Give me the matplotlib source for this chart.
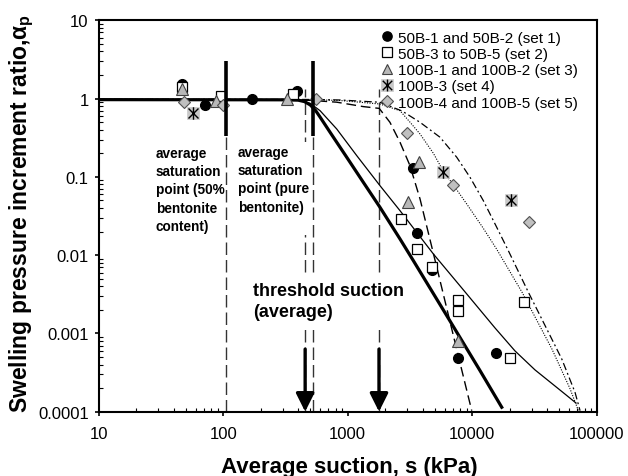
import matplotlib
matplotlib.use('Agg')
import matplotlib.pyplot as plt
from matplotlib.path import Path
from matplotlib.legend_handler import HandlerTuple
from matplotlib.ticker import FixedLocator, FixedFormatter, LogLocator, NullFormatter

plt.rcParams['font.family'] = ['Liberation Sans', 'DejaVu Sans']
plt.rcParams['mathtext.fontset'] = 'custom'
plt.rcParams['mathtext.rm'] = 'Liberation Sans:bold'
plt.rcParams['mathtext.it'] = 'Liberation Sans:bold'
plt.rcParams['mathtext.bf'] = 'Liberation Sans:bold'

# ---------------- data ----------------
set1_s = [46.7, 71, 171, 389, 3330, 3580, 4730, 7730, 15500]
set1_a = [1.53, 0.835, 0.99, 1.26, 0.129, 0.0191, 0.00653, 0.00048, 0.00056]
set2_s = [46.4, 95.5, 361, 2680, 3580, 4785, 7730, 7730, 20100, 26200]
set2_a = [1.39, 1.07, 1.15, 0.029, 0.012, 0.00713, 0.00268, 0.00195, 0.00048, 0.00255]
set3_s = [46.4, 87, 324, 3770, 3030, 7730]
set3_a = [1.31, 0.94, 1.0, 0.154, 0.0474, 0.00081]
set4_s = [57.5, 5870, 20500]
set4_a = [0.65, 0.115, 0.0507]
set5_s = [48.8, 99, 553, 2980, 6970, 28800]
set5_a = [0.90, 0.83, 0.99, 0.364, 0.0789, 0.0268]

labels = ['50B-1 and 50B-2 (set 1)', '50B-3 to 50B-5 (set 2)',
          '100B-1 and 100B-2 (set 3)', '100B-3 (set 4)',
          '100B-4 and 100B-5 (set 5)']

thick_s = [10, 300, 400, 450, 500, 550, 600, 721, 982, 1334, 1815, 2630, 3365, 6240, 11550, 17260]
thick_a = [0.97, 0.965, 0.955, 0.915, 0.83, 0.71, 0.58, 0.372, 0.178, 0.0853, 0.0409, 0.0161,
           0.00851, 0.00169, 0.000335, 0.000114]
thin_s = [10, 300, 400, 500, 600, 816, 1181, 1815, 2630, 4875, 8240, 15240, 22070, 31930,
          46210, 56650, 68200]
thin_a = [0.97, 0.965, 0.955, 0.87, 0.70, 0.409, 0.187, 0.0773, 0.037, 0.01035, 0.00381,
          0.001175, 0.000597, 0.000342, 0.000213, 0.000164, 0.000129]
dashed_s = [10, 500, 816, 1334, 1790, 2183, 2630, 3163, 3808, 5350, 7730, 9910]
dashed_a = [0.97, 0.95, 0.90, 0.79, 0.75, 0.498, 0.277, 0.139, 0.0523, 0.00575, 0.000516, 0.000103]
dotted_s = [10, 500, 867, 1815, 2630, 3163, 3808, 4875, 5865, 6970, 9030, 12280, 15730,
            25120, 43700, 61000, 71100]
dotted_a = [0.98, 0.97, 0.946, 0.853, 0.70, 0.50, 0.353, 0.20, 0.118, 0.0811, 0.0451, 0.0220,
            0.0119, 0.00336, 0.000631, 0.000197, 0.000104]
dashdot_s = [10, 500, 867, 1815, 2730, 3808, 5510, 7510, 9600, 12280, 15730, 19500, 28240,
             38460, 52360, 66920, 73500]
dashdot_a = [0.98, 0.975, 0.96, 0.898, 0.695, 0.498, 0.321, 0.178, 0.0988, 0.0497, 0.0227,
             0.0114, 0.00336, 0.00126, 0.000472, 0.000177, 0.000103]

sat_points = [106, 531]          # average saturation points
sat_bar = [0.336, 3.0]           # extent of the thick bars
threshold = [455, 1783]          # threshold suctions
thr_top = 1.33
arrow_top = 6.3e-4

xticks = [10, 100, 1000, 10000, 100000]
xticklabels = ['10', '100', '1000', '10000', '100000']
yticks = [0.0001, 0.001, 0.01, 0.1, 1, 10]
yticklabels = ['0.0001', '0.001', '0.01', '0.1', '1', '10']

# asterisk marker: vertical bar plus an X
star = Path([(0, -1), (0, 1), (-0.8, -0.8), (0.8, 0.8), (-0.8, 0.8), (0.8, -0.8)],
            [Path.MOVETO, Path.LINETO, Path.MOVETO, Path.LINETO, Path.MOVETO, Path.LINETO])

# ---------------- figure ----------------
fig = plt.figure(figsize=(6.28, 4.77), dpi=100)
ax = fig.add_axes([0.1572, 0.1348, 0.7930, 0.8205])
ax.set_xscale('log')
ax.set_yscale('log')
ax.set_xlim(10, 100000)
ax.set_ylim(0.0001, 10)

# curves
ax.plot(thick_s, thick_a, color='k', lw=2.3, zorder=2)
ax.plot(thin_s, thin_a, color='k', lw=0.9, zorder=2)
ax.plot(dashed_s, dashed_a, color='k', lw=1.0, dashes=(7, 3.5), zorder=2)
ax.plot(dotted_s, dotted_a, color='k', lw=0.8, dashes=(1, 1.3), zorder=2)
ax.plot(dashdot_s, dashdot_a, color='k', lw=0.9, dashes=(6, 2.5, 1.5, 2.5), zorder=2)

# vertical lines
for s in sat_points:
    ax.plot([s, s], [sat_bar[0], sat_bar[1]], color='k', lw=2.6, solid_capstyle='butt', zorder=4)
    ax.plot([s, s], [0.0001, sat_bar[0]], color='0.2', lw=1.0, dashes=(9, 3.6), zorder=1)
for s in threshold:
    ax.plot([s, s], [0.0001, thr_top], color='0.2', lw=1.0, dashes=(9, 3.6), zorder=1)
    ax.annotate('', xy=(s, 0.0001), xytext=(s, arrow_top),
                arrowprops=dict(arrowstyle='-|>,head_width=0.55,head_length=1.1',
                                lw=2.4, color='k', shrinkA=0, shrinkB=0), zorder=6)

# markers
h1, = ax.plot(set1_s, set1_a, ls='none', marker='o', ms=7, mfc='k', mec='k', zorder=3)
h2, = ax.plot(set2_s, set2_a, ls='none', marker='s', ms=7, mfc='white', mec='k', mew=0.9, zorder=3)
h3, = ax.plot(set3_s, set3_a, ls='none', marker='^', ms=8, mfc='#b8b8b8', mec='#404040', mew=0.8, zorder=3)
h4a, = ax.plot(set4_s, set4_a, ls='none', marker='s', ms=9, mfc='#c8c8c8', mec='#c8c8c8', mew=0.5, zorder=3)
h4b, = ax.plot(set4_s, set4_a, ls='none', marker=star, ms=9, color='k', mew=1.0, zorder=3)
h5, = ax.plot(set5_s, set5_a, ls='none', marker='D', ms=6, mfc='#c0c0c0', mec='#505050', mew=0.8, zorder=3)

leg = ax.legend([h1, h2, h3, (h4a, h4b), h5], labels,
                handler_map={tuple: HandlerTuple(ndivide=1)},
                loc='upper left', bbox_to_anchor=(0.6046, 0.9339),
                bbox_transform=fig.transFigure, frameon=False, fontsize=11,
                borderpad=0, borderaxespad=0, handlelength=1.0,
                handletextpad=0.2, labelspacing=0.15, markerscale=0.95)

# annotations
ax.text(0.1145, 0.680, 'average\nsaturation\npoint (50%\nbentonite\ncontent)',
        transform=ax.transAxes, ha='left', va='top', fontsize=9.8, fontweight='bold',
        linespacing=1.4, zorder=5)
ax.text(0.279, 0.6825, 'average\nsaturation\npoint (pure\nbentonite)\n ',
        transform=ax.transAxes, ha='left', va='top', fontsize=9.8, fontweight='bold',
        linespacing=1.4, zorder=5,
        bbox=dict(boxstyle='square,pad=0.2', fc='white', ec='none'))
ax.text(0.3104, 0.3314, 'threshold suction\n(average)',
        transform=ax.transAxes, ha='left', va='top', fontsize=13, fontweight='bold',
        linespacing=1.3, zorder=5,
        bbox=dict(boxstyle='square,pad=0.5', fc='white', ec='none'))

# axes styling
for sp in ax.spines.values():
    sp.set_linewidth(1.5)
ax.xaxis.set_major_locator(FixedLocator(xticks))
ax.xaxis.set_major_formatter(FixedFormatter(xticklabels))
ax.yaxis.set_major_locator(FixedLocator(yticks))
ax.yaxis.set_major_formatter(FixedFormatter(yticklabels))
ax.xaxis.set_minor_locator(LogLocator(base=10, subs=range(2, 10), numticks=20))
ax.yaxis.set_minor_locator(LogLocator(base=10, subs=range(2, 10), numticks=20))
ax.xaxis.set_minor_formatter(NullFormatter())
ax.yaxis.set_minor_formatter(NullFormatter())
ax.tick_params(which='major', direction='out', length=3.2, width=1.2, labelsize=12)
ax.tick_params(which='minor', direction='in', length=3, width=0.8)
ax.tick_params(axis='x', which='major', pad=7)
ax.tick_params(axis='y', which='major', pad=4)

fig.text(349 / 628, 1 - 473 / 477, 'Average suction, s (kPa)', ha='center', va='baseline',
         fontsize=16, fontweight='bold')
fig.text(22 / 628, 1 - 214 / 477, r'Swelling pressure increment ratio,$\alpha_p$',
         rotation=90, ha='center', va='center', fontsize=16.5, fontweight='bold')

fig.savefig('out.png', dpi=100)
